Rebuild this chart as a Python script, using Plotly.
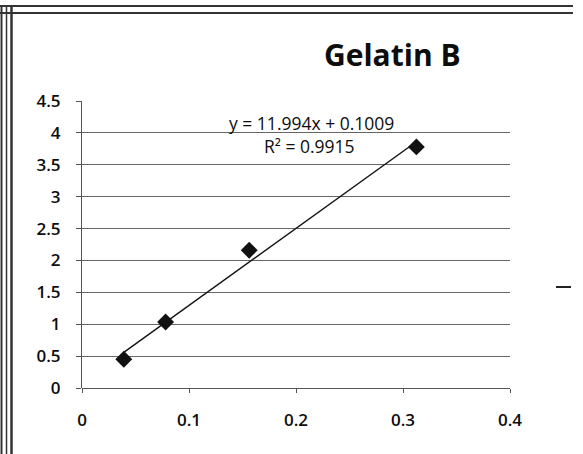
import numpy as np
import plotly.graph_objects as go

# data
conc = [0.0390625, 0.078125, 0.15625, 0.3125]
absorb = [0.45, 1.035, 2.16, 3.78]
eq_text = "y = 11.994x + 0.1009"
r2_text = "R² = 0.9915"
title_text = "Gelatin B"

x_ticks = [0, 0.1, 0.2, 0.3, 0.4]
y_ticks = [0, 0.5, 1, 1.5, 2, 2.5, 3, 3.5, 4, 4.5]

W, H = 583, 454
L, R, T, B = 82, 73, 101, 66
pw, ph = W - L - R, H - T - B


def px(p):
    return (p - L) / pw


def py(q):
    return (H - B - q) / ph


# linear trendline from the points
slope, icpt = np.polyfit(conc, absorb, 1)
tx = np.array([min(conc), max(conc)])
ty = slope * tx + icpt

fig = go.Figure()
fig.add_trace(go.Scatter(
    x=tx, y=ty, mode='lines',
    line=dict(color='#111111', width=1.4),
    showlegend=False, hoverinfo='skip'
))
fig.add_trace(go.Scatter(
    x=conc, y=absorb, mode='markers',
    marker=dict(symbol='diamond', size=13, color='#111111'),
    showlegend=False
))

font = "'Open Sans', sans-serif"
ink = '#0d0d0d'

shapes = []
# scanned frame on the left and top
for xp, w in [(1.5, 2), (6.5, 1.5), (11.5, 2.5)]:
    shapes.append(dict(type='line', xref='paper', yref='paper',
                       x0=px(xp), x1=px(xp), y0=py(H), y1=py(5),
                       line=dict(color='#333333', width=w)))
for yp, w in [(6, 2), (13, 2)]:
    shapes.append(dict(type='line', xref='paper', yref='paper',
                       x0=px(0), x1=px(573), y0=py(yp), y1=py(yp),
                       line=dict(color='#333333', width=w)))
# cut-off legend dash on the right
shapes.append(dict(type='line', xref='paper', yref='paper',
                   x0=px(556), x1=px(571), y0=py(287), y1=py(287),
                   line=dict(color='#222222', width=2)))


def note(text, xc, yc, size, weight=400):
    return dict(text=text,
                xref='paper', yref='paper', x=px(xc), y=py(yc),
                xanchor='center', yanchor='middle', showarrow=False,
                font=dict(size=size, color=ink, family=font, weight=weight))


tick_font = dict(size=17, color=ink, family=font, weight=600)

fig.update_layout(
    width=W, height=H,
    margin=dict(l=L, r=R, t=T, b=B),
    paper_bgcolor='white', plot_bgcolor='white',
    font=dict(family=font, color=ink, size=17),
    xaxis=dict(
        range=[0, 0.4], tickvals=x_ticks, ticktext=[str(v) for v in x_ticks],
        showgrid=False, zeroline=False,
        showline=False, ticks='outside', ticklen=4, tickcolor='#555555',
        ticklabelstandoff=13, tickfont=tick_font
    ),
    yaxis=dict(
        range=[0, 4.5], tickvals=y_ticks, ticktext=[f"{v:g}" for v in y_ticks],
        showgrid=True, gridcolor='#666666', gridwidth=1.2,
        zeroline=True, zerolinecolor='#555555', zerolinewidth=1.2,
        showline=True, linecolor='#555555', linewidth=1,
        ticks='outside', ticklen=5, tickcolor='#555555',
        ticklabelstandoff=12, tickfont=tick_font
    ),
    shapes=shapes,
    annotations=[
        note(title_text, 392, 54, 30, weight=700),
        note(eq_text, 311, 123, 17.5),
        note(r2_text, 309, 146, 17.5),
    ],
)

fig.write_html("out.html", config={'displayModeBar': False},
               post_script="document.body.style.margin='0';")
